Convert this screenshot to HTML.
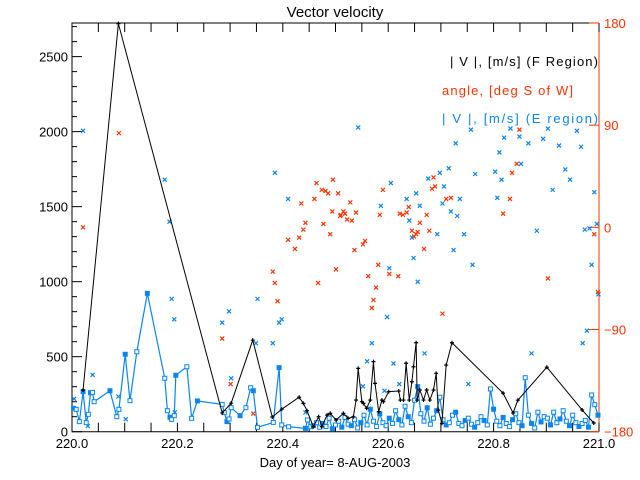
<!DOCTYPE html>
<html><head><meta charset="utf-8"><style>
body{margin:0;background:#fff}
svg{display:block}
text{font-family:"Liberation Sans",sans-serif}
</style></head><body>
<svg id="chart" width="640" height="480" viewBox="0 0 640 480">
<rect x="0" y="0" width="640" height="480" fill="#fff"/>
<text x="335" y="17" font-size="15" text-anchor="middle" fill="#000">Vector velocity</text>
<text x="335" y="467" font-size="13" text-anchor="middle" fill="#000">Day of year= 8-AUG-2003</text>
<g id="legend">
<text x="450" y="66" font-size="13" textLength="148" lengthAdjust="spacing" fill="#000">| V |, [m/s] (F Region)</text>
<text x="442" y="95" font-size="13" textLength="131" lengthAdjust="spacing" fill="#ff3300">angle, [deg S of W]</text>
<text x="442" y="123" font-size="13" textLength="156" lengthAdjust="spacing" fill="#0a85f0">| V |, [m/s] (E region)</text>
</g>
<g id="axes"></g>
<g id="marks"></g>
</svg>
<script>
const xTicks = [220.0, 220.2, 220.4, 220.6, 220.8, 221.0];
const xTickLabels = ["220.0", "220.2", "220.4", "220.6", "220.8", "221.0"];
const yTicks = [0, 500, 1000, 1500, 2000, 2500];
const yTickLabels = ["0", "500", "1000", "1500", "2000", "2500"];
const angleTicks = [-180, -90, 0, 90, 180];
const angleTickLabels = ["-180", "-90", "0", "90", "180"];

const fDays = [220.021,220.088,220.285,220.302,220.343,220.380,220.398,220.431,220.439,220.446,220.458,220.468,220.474,220.484,220.490,220.501,220.515,220.524,220.534,220.539,220.543,220.550,220.553,220.559,220.566,220.572,220.575,220.582,220.588,220.591,220.601,220.620,220.623,220.629,220.634,220.640,220.645,220.648,220.653,220.655,220.660,220.667,220.673,220.679,220.686,220.691,220.695,220.702,220.710,220.721,220.818,220.837,220.846,220.901,220.968,220.990];
const fSpeed = [278,2720,125,190,610,98,150,230,189,140,33,100,33,111,122,78,122,89,100,211,422,200,189,156,211,467,322,133,211,200,267,271,211,211,456,211,333,433,593,211,278,211,278,211,278,389,144,56,444,593,257,125,210,430,145,58];

const eDays = [220.003,220.008,220.014,220.021,220.027,220.031,220.035,220.039,220.042,220.072,220.085,220.089,220.101,220.110,220.123,220.143,220.176,220.181,220.186,220.189,220.194,220.197,220.218,220.227,220.238,220.285,220.289,220.294,220.298,220.302,220.319,220.330,220.339,220.344,220.352,220.382,220.393,220.398,220.411,220.443,220.447,220.453,
220.458,220.464,220.470,220.476,220.482,220.488,220.494,220.500,220.506,220.512,220.518,220.524,220.530,220.536,220.542,220.548,220.554,220.560,220.566,220.572,220.578,220.584,220.590,220.596,220.602,220.608,220.614,220.620,220.626,220.632,220.638,220.644,220.650,220.656,220.662,220.668,220.674,220.680,220.686,220.692,220.698,220.704,220.710,220.716,220.722,220.728,220.734,220.740,220.746,220.752,220.758,220.764,220.770,220.776,220.782,220.788,220.794,220.800,220.806,220.812,220.818,220.824,220.830,220.836,220.842,220.848,220.854,220.860,220.866,220.872,220.878,220.884,220.890,220.896,220.902,220.908,220.914,220.920,220.926,220.932,220.938,220.944,220.950,220.956,220.962,220.968,220.974,220.980,220.986,220.992,220.998];
const eSpeed = [156,149,67,267,60,116,260,262,200,273,100,149,516,207,533,922,356,140,96,82,107,376,433,89,205,182,127,67,85,160,107,160,293,273,29,62,427,45,33,22,78,33,
40,60,30,55,35,90,20,45,70,30,95,50,40,80,25,60,110,45,150,70,35,120,60,40,90,55,140,80,45,170,100,60,210,300,120,70,160,50,90,140,230,80,45,60,110,130,55,40,75,90,50,30,60,100,75,45,285,150,70,40,95,55,35,80,120,60,40,360,110,55,25,130,65,100,90,45,130,60,85,140,70,40,110,60,35,55,75,30,245,180,110];

const angDays = [220.021,220.089,220.285,220.301,220.344,220.381,220.385,220.390,220.410,220.423,220.431,220.439,220.443,220.435,220.460,220.464,220.474,220.481,220.486,220.495,220.505,220.494,220.477,220.490,220.501,220.467,220.509,220.510,220.515,220.518,220.522,220.531,220.528,220.539,220.536,220.552,220.556,220.562,220.581,220.577,220.572,220.569,220.602,220.619,220.584,220.590,220.622,220.628,220.635,220.639,220.645,220.649,220.653,220.656,220.660,220.668,220.673,220.678,220.683,220.686,220.689,220.710,220.719,220.703,220.818,220.831,220.835,220.844,220.849,220.903,220.991,220.998];
const angValues = [0,83,-98,-138,-164,-39,-49,-65,-11,-19,-9,-2,4,21,25,39,33,32,30,42,30,14,3,-6,-37,-49,10,11,14,12,7,6,22,13,-20,-15,-12,-43,-33,-53,-64,-71,-41,-43,11,33,12,11,13,18,-3,-8,-6,-4,4,-19,11,-3,34,44,36,25,26,-76,12,25,48,56,86,-45,-6,-57];

const eAngDays = [220.021,220.176,220.185,220.189,220.194,220.039,220.004,220.030,220.102,220.088,220.195,220.285,220.298,220.302,220.349,220.352,220.385,220.410,220.381,220.393,220.398,220.443,220.543,220.728,220.757,220.811,220.820,220.832,220.849,220.852,220.866,220.894,220.903,220.924,220.958,220.966,220.936,220.945,220.912,220.991,220.882,220.973,220.996,220.982,220.986,220.999,220.977,220.969,220.872,220.765,220.803,220.815,220.807,220.736,220.760,220.744,220.731,220.719,220.724,220.706,220.703,220.715,220.698,220.693,220.676,220.660,220.653,220.648,220.645,220.640,220.635,220.656,220.605,220.602,220.598,220.586,220.569,220.560,220.610,220.669,220.552,220.621,220.752,220.593];
const eAngValues = [85,42,5,-63,-81,-130,-151,-175,-169,-149,-163,-84,-74,-133,-102,-63,48,25,-102,-84,-81,-163,88,74,86,66,79,87,80,56,74,78,87,72,85,71,51,42,33,31,-3,-2,3,-1,-33,-59,-91,-102,-111,47,49,42,26,25,-33,-6,10,14,-20,36,21,52,48,-6,43,19,30,-27,-9,6,25,-48,39,-36,-79,19,-102,-118,-120,-111,-140,-138,-138,-144];

const NS = "http://www.w3.org/2000/svg";
const L = 72, R = 599, T = 23, B = 431.7;
const X0 = 220.0, X1 = 221.0, YMAX = 2724;
function xs(d){ return L + (d - X0) / (X1 - X0) * (R - L); }
function ys(v){ return B - Math.min(v, YMAX) / YMAX * (B - T); }
function as(a){ return B - (a + 180) / 360 * (B - T); }
function el(tag, attrs, parent){ const e = document.createElementNS(NS, tag); for (const k in attrs) e.setAttribute(k, attrs[k]); parent.appendChild(e); return e; }

const axes = document.getElementById("axes");
const marks = document.getElementById("marks");
const BLACK = "#000", RED = "#ff3300", BLUE = "#0a85f0";

const frame = el("path", {d:`M${R},${T} L${L},${T} L${L},${B} L${R},${B}`, fill:"none", stroke:BLACK, "stroke-width":1}, axes);


const raxis = el("line", {x1:R, y1:T, x2:R, y2:B, stroke:RED, "stroke-width":1}, axes);



for (let i = 0; i <= 20; i++) {
  const x = xs(X0 + i * 0.05);
  const t1 = el("line", {x1:x, y1:B, x2:x, y2:B - 9, stroke:BLACK}, axes);
  
  
  const t2 = el("line", {x1:x, y1:T, x2:x, y2:T + 9, stroke:BLACK}, axes);
  
  
}
xTicks.forEach((v, i) => {
  const t = el("text", {x:xs(v), y:448, "font-size":13, "text-anchor":"middle", fill:BLACK}, axes);
  t.textContent = xTickLabels[i];
  
  
});
for (let v = 0; v <= 2700; v += 100) {
  const y = ys(v);
  const major = v % 500 === 0;
  const t = el("line", {x1:L, y1:y, x2:L + (major ? 10 : 5), y2:y, stroke:BLACK}, axes);
  
  
}
yTicks.forEach((v, i) => {
  const t = el("text", {x:68, y:ys(v) + 5, "font-size":13, "text-anchor":"end", fill:BLACK}, axes);
  t.textContent = yTickLabels[i];
  
  
});
angleTicks.forEach((v, i) => {
  const y = as(v);
  const t = el("line", {x1:R, y1:y, x2:R - 10, y2:y, stroke:RED}, axes);
  
  
  const lb = el("text", {x:604, y:y + 5, "font-size":13, "text-anchor":"start", fill:RED}, axes);
  lb.textContent = angleTickLabels[i].replace("-", "\u2212");
  
  
});

function cross(x, y, color, name){
  const p = el("path", {d:`M${x-2},${y-2} L${x+2},${y+2} M${x-2},${y+2} L${x+2},${y-2}`, stroke:color, "stroke-width":1.2, fill:"none"}, marks);
  
  
}
eAngDays.forEach((d, i) => cross(xs(d), as(eAngValues[i]), BLUE, "e-angle-point"));
angDays.forEach((d, i) => cross(xs(d), as(angValues[i]), RED, "f-angle-point"));

const ePath = el("polyline", {points: eDays.map((d, i) => xs(d) + "," + ys(eSpeed[i])).join(" "), fill:"none", stroke:BLUE, "stroke-width":1.2}, marks);


eDays.forEach((d, i) => {
  const r = el("rect", {x:xs(d) - 2, y:ys(eSpeed[i]) - 2, width:4, height:4, fill:(i % 3 === 0 ? BLUE : "#fff"), stroke:BLUE, "stroke-width":1}, marks);
  
  
});

const fPath = el("polyline", {points: fDays.map((d, i) => xs(d) + "," + ys(fSpeed[i])).join(" "), fill:"none", stroke:BLACK, "stroke-width":1}, marks);


fDays.forEach((d, i) => {
  const x = xs(d), y = ys(fSpeed[i]);
  const p = el("path", {d:`M${x-2},${y} L${x+2},${y} M${x},${y-2} L${x},${y+2}`, stroke:BLACK, "stroke-width":1.2}, marks);
  
  
});
</script>
</body></html>
